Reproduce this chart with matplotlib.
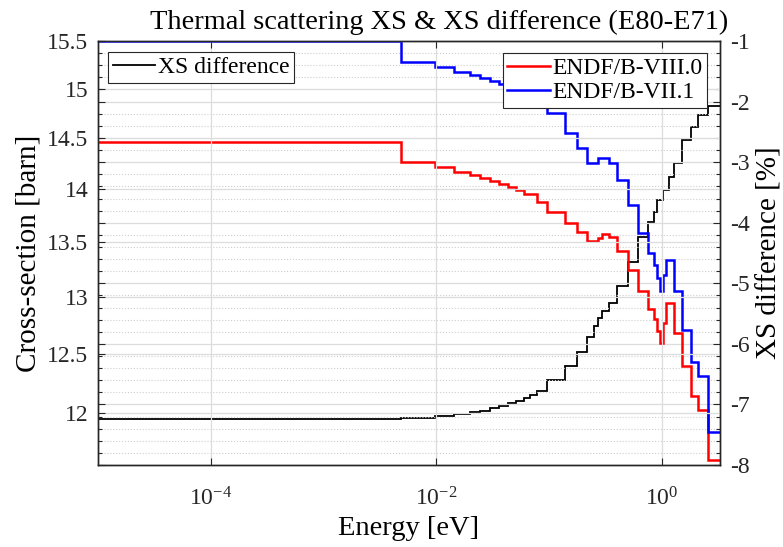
import matplotlib.pyplot as plt
from matplotlib.ticker import NullLocator, NullFormatter, MultipleLocator, FixedLocator

plt.rcParams['font.family'] = ['Liberation Serif', 'DejaVu Serif']
plt.rcParams['mathtext.fontset'] = 'custom'
plt.rcParams['mathtext.rm'] = 'Liberation Serif'
plt.rcParams['mathtext.it'] = 'Liberation Serif:italic'
plt.rcParams['axes.unicode_minus'] = False

# limites dos grupos de energia [eV]
energia = [1e-5, 0.0049, 0.0098, 0.0143, 0.0199, 0.0244, 0.0299, 0.0360, 0.0432,
           0.0509, 0.0600, 0.0678, 0.0790, 0.0970, 0.1388, 0.1774, 0.2178, 0.2512,
           0.2754, 0.2958, 0.3412, 0.4019, 0.5070, 0.6120, 0.7635, 0.8577, 0.9177,
           0.9698, 1.0375, 1.103, 1.173, 1.291, 1.512, 1.840, 2.089, 2.554, 3.3]

# secao de choque [barn]
xs_e80 = [14.457, 14.266, 14.211, 14.169, 14.137, 14.111, 14.081, 14.050, 14.023,
          13.992, 13.950, 13.950, 13.880, 13.785, 13.681, 13.591, 13.504, 13.504,
          13.535, 13.575, 13.550, 13.420, 13.238, 13.048, 12.894, 12.804, 12.700,
          12.593, 12.771, 12.945, 12.945, 12.680, 12.392, 12.139, 12.029, 11.622]
xs_e71 = [15.50, 15.281, 15.222, 15.176, 15.142, 15.107, 15.082, 15.048, 15.020,
          14.986, 14.942, 14.942, 14.867, 14.749, 14.548, 14.400, 14.256, 14.256,
          14.300, 14.300, 14.256, 14.088, 13.849, 13.582, 13.397, 13.290, 13.172,
          13.048, 13.199, 13.336, 13.336, 13.048, 12.708, 12.426, 12.307, 11.849]

# diferenca [%]
xs_dif = [-7.241, -7.219, -7.191, -7.163, -7.130, -7.104, -7.064, -7.026, -6.982,
          -6.939, -6.899, -6.845, -6.773, -6.597, -6.366, -6.130, -5.892, -5.700,
          -5.578, -5.453, -5.321, -5.045, -4.654, -4.231, -3.983, -3.818, -3.625,
          -3.625, -3.460, -3.460, -3.240, -3.019, -2.634, -2.415, -2.222, -2.073]

ticks_xs = [12, 12.5, 13, 13.5, 14, 14.5, 15, 15.5]
ticks_dif = [-8, -7, -6, -5, -4, -3, -2, -1]
ticks_e = [1e-4, 1e-2, 1]

cor_grade = '#dcdcdc'
cor_eixo = '#262626'

fig = plt.figure(figsize=(7.83, 5.47), dpi=100)
ax = fig.add_axes([0.1252, 0.1499, 0.7944, 0.7751])
ax2 = ax.twinx()
# eixo da esquerda por cima, para as linhas vermelha/azul ficarem sobre a grade
ax.set_zorder(ax2.get_zorder() + 1)
ax.patch.set_visible(False)

l80 = ax.stairs(xs_e80, energia, baseline=None, color='#ff0000', lw=1.8, label='ENDF/B-VIII.0')
l71 = ax.stairs(xs_e71, energia, baseline=None, color='#0000ff', lw=1.8, label='ENDF/B-VII.1')
ldif = ax2.stairs(xs_dif, energia, baseline=None, color='black', lw=1.3, label='XS difference')

ax.set_xscale('log')
ax.set_yscale('log')
ax.set_xlim(1e-5, 3.3)
ax.set_ylim(11.58, 15.5)
ax2.set_ylim(-8, -1)

ax.xaxis.set_major_locator(FixedLocator(ticks_e))
ax.xaxis.set_minor_locator(NullLocator())
ax.yaxis.set_major_locator(FixedLocator(ticks_xs))
ax.yaxis.set_minor_locator(NullLocator())
ax.yaxis.set_minor_formatter(NullFormatter())
ax.set_yticklabels([f'{t:g}' for t in ticks_xs])

ax2.yaxis.set_major_locator(FixedLocator(ticks_dif))
ax2.yaxis.set_minor_locator(MultipleLocator(0.2))
ax2.set_yticklabels([f'{t:g}' for t in ticks_dif])
ax2.yaxis.set_ticks_position('both')
ax2.tick_params(axis='y', labelleft=False, labelright=True)

ax.grid(True, which='major', color=cor_grade, lw=0.9, ls='-')
ax2.grid(True, which='major', color=cor_grade, lw=0.9, ls='-')
ax2.grid(True, which='minor', color='#cfcfcf', lw=0.8, ls=':')

for a in (ax, ax2):
    a.tick_params(which='both', direction='in', colors=cor_eixo, labelsize=17,
                  top=True, width=0.8)
    a.tick_params(which='major', length=5)
    a.tick_params(which='minor', length=3)
    for s in a.spines.values():
        s.set_color(cor_eixo)
        s.set_linewidth(1.0)
ax.tick_params(axis='x', pad=16)
ax.tick_params(axis='y', pad=7)
ax2.tick_params(axis='y', pad=7)

ax.set_xlabel('Energy [eV]', fontsize=20.5, labelpad=4)
ax.set_ylabel('Cross-section [barn]', fontsize=21, labelpad=4)
ax2.set_ylabel('XS difference [%]', fontsize=21, labelpad=5)
ax.set_title('Thermal scattering XS & XS difference (E80-E71)', fontsize=20.4,
             pad=9, x=0.548)

leg1 = ax.legend(handles=[ldif], loc='upper left', bbox_to_anchor=(0.016, 0.974),
                 borderaxespad=0, fontsize=17, fancybox=False, framealpha=1,
                 edgecolor=cor_eixo, handlelength=1.8, handletextpad=0.1,
                 borderpad=0.2)
leg1.get_frame().set_linewidth(0.8)
ax.add_artist(leg1)
leg2 = ax.legend(handles=[l80, l71], loc='upper right', bbox_to_anchor=(0.979, 0.972),
                 borderaxespad=0, fontsize=17, fancybox=False, framealpha=1,
                 edgecolor=cor_eixo, handlelength=1.8, handletextpad=0.1,
                 borderpad=0.2, labelspacing=0.1)
leg2.get_frame().set_linewidth(0.8)

fig.savefig('out.png', dpi=100)
